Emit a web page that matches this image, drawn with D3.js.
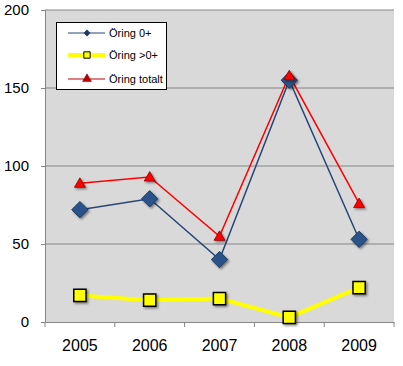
<!DOCTYPE html>
<html><head><meta charset="utf-8">
<script src="https://cdn.jsdelivr.net/npm/d3@7"></script>
<style>body{margin:0;background:#fff}svg{display:block}</style>
</head><body>
<svg id="c" width="403" height="366"></svg>
<script>
const years = ["2005","2006","2007","2008","2009"];
const oring0 = [72, 79, 40, 155, 53];
const oringOver0 = [17, 14, 15, 3, 22];
const oringTotalt = [89, 93, 55, 158, 76];
const yTicks = [0, 50, 100, 150, 200];
const seriesNames = ["Öring 0+", "Öring >0+", "Öring totalt"];

const svg = d3.select("#c");
const L = 45, R = 394, T = 10, B = 322;
const x = d3.scaleBand().domain(years).range([L, R]);
const y = d3.scaleLinear().domain([0, 200]).range([B, T]);

const defs = svg.append("defs");
const f = defs.append("filter").attr("id","sh").attr("x","-50%").attr("y","-50%").attr("width","200%").attr("height","200%");
f.append("feDropShadow").attr("dx",1.5).attr("dy",1.5).attr("stdDeviation",1.2).attr("flood-color","#000").attr("flood-opacity",0.45);

svg.append("rect").attr("x",L).attr("y",T).attr("width",R-L).attr("height",B-T).attr("fill","#d9d9d9");

svg.append("g").selectAll("line").data(yTicks.filter(d=>d>0)).join("line")
  .attr("x1",L).attr("x2",R).attr("y1",d=>y(d)).attr("y2",d=>y(d))
  .attr("stroke","#868686").attr("stroke-width",1.2);

const ya = svg.append("g").attr("transform",`translate(${L},0)`)
  .call(d3.axisLeft(y).tickValues(yTicks).tickSize(4).tickPadding(12));
ya.select(".domain").attr("stroke","#868686");
ya.selectAll(".tick line").attr("stroke","#868686");
ya.selectAll("text").attr("font-family","Liberation Sans, Arial, sans-serif").attr("font-size",15).attr("fill","#000");

const xa = svg.append("g").attr("transform",`translate(0,${B})`)
  .call(d3.axisBottom(x).tickSize(0).tickPadding(18));
xa.select(".domain").attr("stroke","#868686");
xa.selectAll("text").attr("font-family","Liberation Sans, Arial, sans-serif").attr("font-size",16).attr("fill","#000");
svg.append("g").selectAll("line").data(d3.range(years.length+1)).join("line")
  .attr("x1",i=>L + i*x.step()).attr("x2",i=>L + i*x.step())
  .attr("y1",B).attr("y2",B+5).attr("stroke","#868686");

const cx = d => x(d) + x.bandwidth()/2;
const line = d3.line().x(d=>cx(d.year)).y(d=>y(d.v));
const mk = arr => years.map((yr,i)=>({year:yr, v:arr[i]}));

svg.append("path").datum(mk(oringOver0)).attr("d",line).attr("fill","none").attr("stroke","#ffff00").attr("stroke-width",4);
svg.append("path").datum(mk(oring0)).attr("d",line).attr("fill","none").attr("stroke","#254677").attr("stroke-width",1.5);
svg.append("path").datum(mk(oringTotalt)).attr("d",line).attr("fill","none").attr("stroke","#ff0000").attr("stroke-width",1.5);

const sym = (type, size) => d3.symbol().type(type).size(size)();

svg.append("g").selectAll("path").data(mk(oring0)).join("path")
  .attr("d", sym(d3.symbolDiamond2, 170))
  .attr("transform", d=>`translate(${cx(d.year)},${y(d.v)})`)
  .attr("fill","#2b5289").attr("stroke","#1c3a63").attr("stroke-width",1).attr("filter","url(#sh)");
svg.append("g").selectAll("path").data(mk(oringOver0)).join("path")
  .attr("d", sym(d3.symbolSquare, 150))
  .attr("transform", d=>`translate(${cx(d.year)},${y(d.v)})`)
  .attr("fill","#ffff00").attr("stroke","#000").attr("stroke-width",1.5).attr("filter","url(#sh)");
svg.append("g").selectAll("path").data(mk(oringTotalt)).join("path")
  .attr("d", sym(d3.symbolTriangle, 52))
  .attr("transform", d=>`translate(${cx(d.year)},${y(d.v)+1})`)
  .attr("fill","#ff0000").attr("stroke","#8b0000").attr("stroke-width",0.8).attr("filter","url(#sh)");

const lg = svg.append("g");
lg.append("rect").attr("x",56.5).attr("y",22.5).attr("width",110).attr("height",67).attr("fill","#fff").attr("stroke","#000").attr("stroke-width",1);
const ly = [33, 55, 79];
const lcol = ["#254677","#ffff00","#c00000"];
const lw = [1, 4, 1];
ly.forEach((yy,i)=>{
  lg.append("line").attr("x1",68).attr("x2",105).attr("y1",yy).attr("y2",yy).attr("stroke",lcol[i]).attr("stroke-width",lw[i]);
  lg.append("text").attr("x",109).attr("y",yy+4).text(seriesNames[i])
    .attr("font-family","Liberation Sans, Arial, sans-serif").attr("font-size",11).attr("fill","#000");
});
lg.append("path").attr("d",sym(d3.symbolDiamond2,30)).attr("transform",`translate(87,${ly[0]})`).attr("fill","#1f3a60");
lg.append("path").attr("d",sym(d3.symbolSquare,40)).attr("transform",`translate(87,${ly[1]})`).attr("fill","#ffff00").attr("stroke","#000").attr("stroke-width",1);
lg.append("path").attr("d",sym(d3.symbolTriangle,35)).attr("transform",`translate(87,${ly[2]})`).attr("fill","#c00000").attr("stroke","#600").attr("stroke-width",0.5);
</script>
</body></html>
